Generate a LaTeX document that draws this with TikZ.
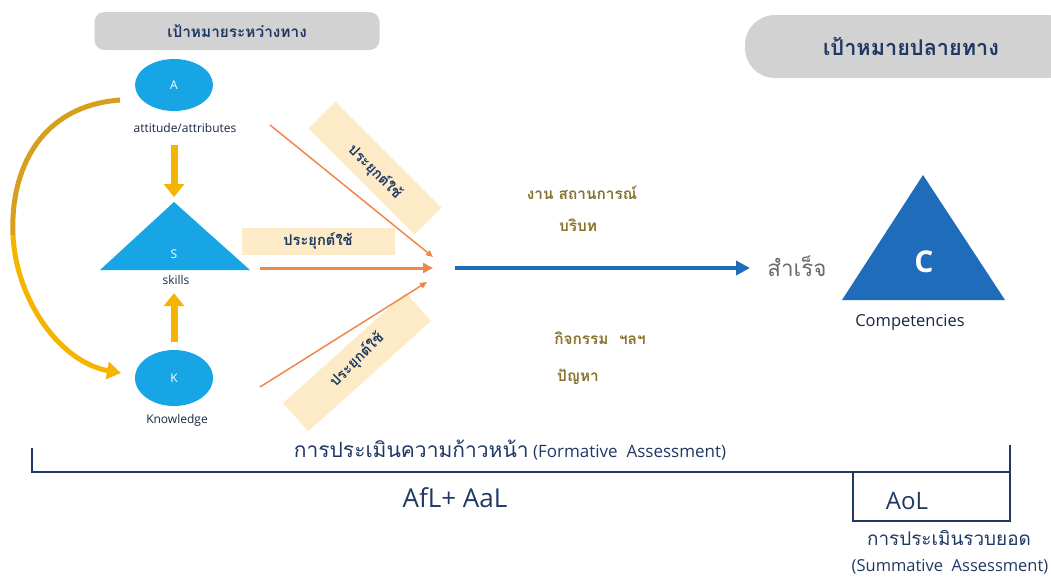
\documentclass[tikz,border=0pt]{standalone}
\usepackage{fontspec}
\setmainfont{Open Sans}
\newfontfamily\thf[Script=Thai,Scale=1.4]{Loma}
\usetikzlibrary{arrows.meta,shapes.geometric}
\definecolor{boxgray}{HTML}{D2D2D2}
\definecolor{navy}{HTML}{1F3864}
\definecolor{skyb}{HTML}{18A5E6}
\definecolor{gold}{HTML}{F4B400}
\definecolor{darkgold}{HTML}{D6A01E}
\definecolor{orng}{HTML}{F0874A}
\definecolor{band}{HTML}{FCEBC6}
\definecolor{deepb}{HTML}{1F6DBA}
\definecolor{olive}{HTML}{86722C}
\definecolor{grayt}{HTML}{6A6A6A}

\newcommand{\fs}[1]{\fontsize{#1}{#1}\selectfont}

\begin{document}
\begin{tikzpicture}[x=1pt,y=-1pt,
  tag/.style={fill=boxgray,rounded corners=10pt,text=navy,font=\fs{11}\thf\bfseries},
  blob/.style={ellipse,fill=skyb,text=white,minimum width=78pt,minimum height=52pt,inner sep=0pt,font=\fs{12}},
  sub/.style={text=navy!70!black,font=\fs{12}},
  band/.style={fill=band,minimum width=150pt,minimum height=38pt,inner sep=0pt},
  bandtxt/.style={text=navy,font=\fs{10.5}\thf\bfseries},
  ctx/.style={text=olive,font=\fs{11}\thf\bfseries},
  ya/.style={gold,line width=7pt,-{Triangle[width=20pt,length=13pt]}},
  oa/.style={orng,line width=1.5pt,-{Triangle[width=6pt,length=7pt]}},
  bar/.style={navy,line width=2.5pt},
  foot/.style={text=navy,font=\fs{16.5}}]
\useasboundingbox (0,0) rectangle (1051,582);

\fill[skyb] (100,270) -- (174,202) -- (250,270) -- cycle;
\fill[deepb] (842,300) -- (923,175) -- (1005,300) -- cycle;
\coordinate (Sapex) at (174,202);

\path (237,31) node[tag,minimum width=285pt,minimum height=38pt] (midgoal) {เป้าหมายระหว่างทาง}
      (911,46.5) node[tag,rounded corners=30pt,minimum width=332pt,minimum height=63pt,font=\fs{15.5}\thf\bfseries] (endgoal) {เป้าหมายปลายทาง}
      (174,85) node[blob] (A) {A}
      (185,128) node[sub] (att) {attitude/attributes}
      (174,254) node[text=white,font=\fs{12}] (S) {S}
      (176,280) node[sub] (skl) {skills}
      (174,378) node[blob,minimum height=56pt] (K) {K}
      (177,420) node[sub] (knw) {Knowledge}
      (375,168) node[band,rotate=-45] (b1) {}
      (375,172) node[bandtxt,rotate=-45] (t1) {ประยุกต์ใช้}
      (318,241) node[band,minimum width=153pt,minimum height=27pt] (b2) {}
      (318,241) node[bandtxt] (t2) {ประยุกต์ใช้}
      (357,362) node[band,rotate=42,minimum width=165pt] (b3) {}
      (357,360) node[bandtxt,rotate=45] (t3) {ประยุกต์ใช้}
      (582,193) node[ctx] (job) {งาน สถานการณ์}
      (578,225) node[ctx] (ctxt) {บริบท}
      (600,338) node[ctx] (act) {กิจกรรม\ \ ฯลฯ}
      (578,377) node[ctx] (prob) {ปัญหา}
      (797,266) node[text=grayt,font=\fs{16}\thf] (done) {สำเร็จ}
      (924,262) node[text=white,font=\fs{30}\bfseries] (C) {C}
      (910,322) node[text=navy!70!black,font=\fs{16.5}] (comp) {Competencies}
      (510,450) node[foot,font=\fs{17}] (form) {{\thf\fs{15}การประเมินความก้าวหน้า} (Formative\ \ Assessment)}
      (455,498) node[foot,font=\fs{26}] (afl) {AfL+ AaL}
      (907,501) node[foot,font=\fs{24}] (aol) {AoL}
      (949,538) node[foot,font=\fs{13.5}\thf] (sum) {การประเมินรวบยอด}
      (950,567) node[foot] (sumen) {(Summative\ \ Assessment)};

\coordinate (o1) at (270,125);
\coordinate (o2) at (260,268);
\coordinate (o3) at (260,387);
\coordinate (h1) at (433,257);
\coordinate (h2) at (433,268);
\coordinate (h3) at (427,282);
\coordinate (go) at (455,268);
\coordinate (arrive) at (750,268);
\coordinate (loopa) at (120,100);
\coordinate (loopm) at (13,235);
\coordinate (loopk) at (121,373);

\draw[ya,shorten <=9pt,shorten >=5pt] (A |- att.south) -- (Sapex);
\draw[ya,shorten <=8pt,shorten >=5pt] (K.north) -- (Sapex |- skl.south);
\draw[darkgold,line width=5pt] (loopa) .. controls (40,106) and (10,170) .. (loopm);
\draw[ya,line width=5pt,-{Triangle[width=17pt,length=14pt]}] (loopm) .. controls (16,300) and (60,362) .. (loopk);
\draw[oa] (o1) -- (h1);
\draw[oa,line width=3pt,-{Triangle[width=10pt,length=10pt]}] (o2) -- (h2);
\draw[oa] (o3) -- (h3);
\draw[deepb,line width=4pt,-{Triangle[width=14pt,length=14pt]}] (go) -- (arrive);

\draw[bar] (32,448) -- (32,472) -- (1010,472) -- (1010,445);
\draw[bar] (853,472) -- (853,521) -- (1010,521) -- (1010,472);
\end{tikzpicture}
\end{document}
